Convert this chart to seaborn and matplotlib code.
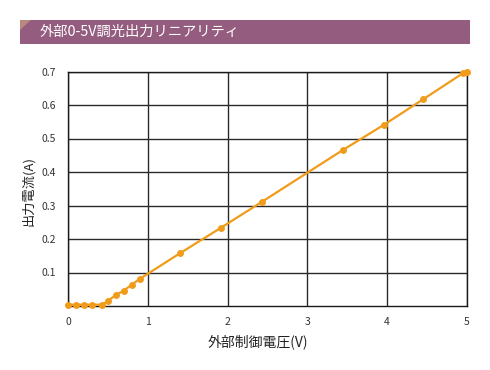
import matplotlib
matplotlib.use("Agg")
import matplotlib.pyplot as plt
import seaborn as sns
import pandas as pd
from matplotlib.patches import Rectangle, Polygon

voltage = [0.0, 0.1, 0.2, 0.3, 0.43, 0.5, 0.6, 0.7, 0.8, 0.9, 1.40, 1.92, 2.43, 3.44, 3.96, 4.45, 4.95, 5.0]
current = [0.004, 0.004, 0.004, 0.004, 0.004, 0.015, 0.033, 0.046, 0.064, 0.081, 0.157, 0.234, 0.311, 0.465, 0.541, 0.617, 0.695, 0.700]
x_ticks = [0, 1, 2, 3, 4, 5]
y_ticks = [0.1, 0.2, 0.3, 0.4, 0.5, 0.6, 0.7]
title = "外部0-5V調光出力リニアリティ"
x_label = "外部制御電圧(V)"
y_label = "出力電流(A)"

df = pd.DataFrame({"v": voltage, "i": current})

sns.set_style("white")
plt.rcParams['font.family'] = ['Noto Sans CJK JP', 'DejaVu Sans']

fig = plt.figure(figsize=(4.9, 3.7), dpi=100)
W, H = 490, 370

# title banner
fig.patches.append(Rectangle((20 / W, 1 - 44 / H), 450 / W, 24 / H,
                             transform=fig.transFigure, facecolor="#945C7E",
                             edgecolor="none", zorder=0))
fig.patches.append(Polygon([(20 / W, 1 - 20 / H), (31 / W, 1 - 20 / H), (20 / W, 1 - 30 / H)],
                           closed=True, transform=fig.transFigure,
                           facecolor="#B8877F", edgecolor="none", zorder=1))
fig.text(40 / W, 1 - 32 / H, title, color="white", fontsize=10.3, va="center", ha="left")

ax = fig.add_axes([68 / W, 1 - 306 / H, (467 - 68) / W, (306 - 71.5) / H])
sns.lineplot(data=df, x="v", y="i", ax=ax, color="#F09C1A", linewidth=1.6,
             marker="o", markersize=5, markeredgewidth=0, clip_on=False, zorder=5)

ax.set_xlim(0, 5)
ax.set_ylim(0, 0.7)
ax.set_xticks(x_ticks)
ax.set_yticks(y_ticks)
ax.set_xticklabels([str(t) for t in x_ticks])
ax.set_yticklabels([f"{t:.1f}" for t in y_ticks])
ax.grid(True, color="#2a2a2a", linewidth=1.0)
ax.set_axisbelow(True)
for s in ax.spines.values():
    s.set_color("#1a1a1a")
    s.set_linewidth(1.0)
ax.tick_params(axis="both", length=0, labelsize=7.5, colors="#333333", pad=9)
ax.tick_params(axis="x", pad=8)
ax.set_xlabel(x_label, fontsize=10, color="#222222")
ax.set_ylabel(y_label, fontsize=9.5, color="#222222")
ax.xaxis.set_label_coords(0.476, -0.12)
ax.yaxis.set_label_coords(-0.083, 0.49)

fig.savefig("out.png", dpi=100, facecolor="white")
